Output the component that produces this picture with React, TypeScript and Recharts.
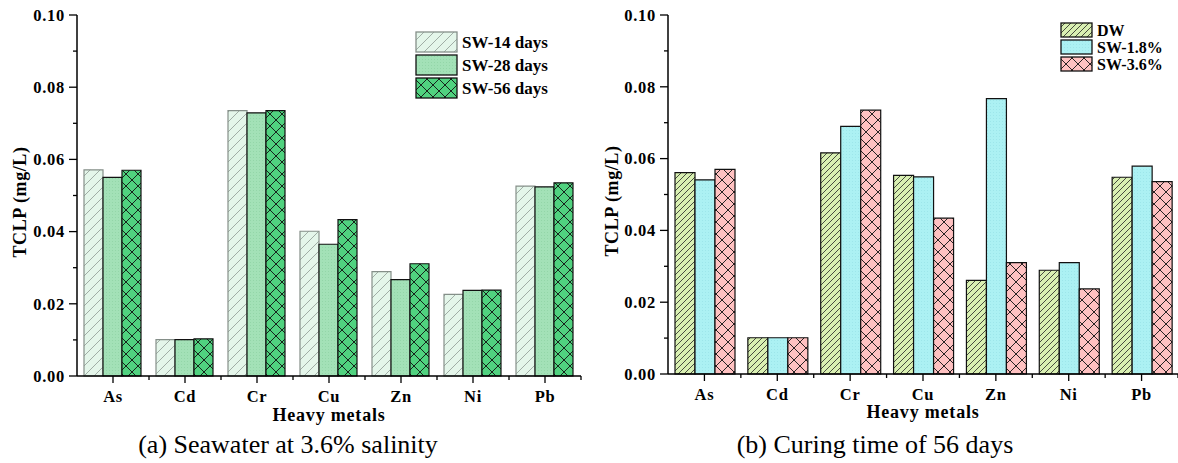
import React from "react";
import { BarChart, Bar, XAxis, YAxis } from "recharts";

const categories = ["As", "Cd", "Cr", "Cu", "Zn", "Ni", "Pb"];

// (a) seawater 3.6%, curing age
const sw14 = [0.0571, 0.0101, 0.0735, 0.0401, 0.0289, 0.0226, 0.0526];
const sw28 = [0.055, 0.0101, 0.0729, 0.0365, 0.0267, 0.0237, 0.0524];
const sw56 = [0.057, 0.0103, 0.0735, 0.0433, 0.0311, 0.0238, 0.0535];

// (b) 56 days, salinity
const dw = [0.0561, 0.0101, 0.0616, 0.0553, 0.0261, 0.0289, 0.0548];
const sw18 = [0.0541, 0.0101, 0.069, 0.0549, 0.0767, 0.031, 0.0579];
const sw36 = [0.057, 0.0101, 0.0735, 0.0434, 0.031, 0.0237, 0.0536];

const yTicks = [0, 0.01, 0.02, 0.03, 0.04, 0.05, 0.06, 0.07, 0.08, 0.09, 0.1];

const FONT = "Liberation Serif, Times New Roman, serif";

const dataA = categories.map((c, i) => ({ metal: c, sw14: sw14[i], sw28: sw28[i], sw56: sw56[i] }));
const dataB = categories.map((c, i) => ({ metal: c, dw: dw[i], sw18: sw18[i], sw36: sw36[i] }));

const seriesA = [
  { key: "sw14", name: "SW-14 days", fill: "url(#p14)", stroke: "#858f89" },
  { key: "sw28", name: "SW-28 days", fill: "url(#p28)", stroke: "#111" },
  { key: "sw56", name: "SW-56 days", fill: "url(#p56)", stroke: "#111" },
];
const seriesB = [
  { key: "dw", name: "DW", fill: "url(#pdw)", stroke: "#111" },
  { key: "sw18", name: "SW-1.8%", fill: "url(#p18)", stroke: "#111" },
  { key: "sw36", name: "SW-3.6%", fill: "url(#p36)", stroke: "#111" },
];

function Patterns() {
  return (
    <defs>
      <pattern id="p14" patternUnits="userSpaceOnUse" width="10" height="10">
        <rect width="10" height="10" fill="#e4f6ea" />
        <path d="M0,10 L10,0 M-2,2 L2,-2 M8,12 L12,8" stroke="#8f9a93" strokeWidth="0.8" />
      </pattern>
      <pattern id="p28" patternUnits="userSpaceOnUse" width="3" height="3">
        <rect width="3" height="3" fill="#a3e1b7" />
        <rect x="1" y="1" width="1" height="1" fill="#93d6a8" />
      </pattern>
      <pattern id="p56" patternUnits="userSpaceOnUse" width="12" height="12">
        <rect width="12" height="12" fill="#50d27f" />
        <path d="M0,0 L12,12 M0,12 L12,0" stroke="#111" strokeWidth="0.9" />
      </pattern>
      <pattern id="pdw" patternUnits="userSpaceOnUse" width="6" height="6">
        <rect width="6" height="6" fill="#d9f0b2" />
        <path d="M0,6 L6,0 M-1,1 L1,-1 M5,7 L7,5" stroke="#222" strokeWidth="0.8" />
      </pattern>
      <pattern id="p18" patternUnits="userSpaceOnUse" width="3" height="3">
        <rect width="3" height="3" fill="#acf1f3" />
        <rect x="1" y="1" width="1" height="1" fill="#9de6ea" />
      </pattern>
      <pattern id="p36" patternUnits="userSpaceOnUse" width="12" height="12">
        <rect width="12" height="12" fill="#ffc1c1" />
        <path d="M0,0 L12,12 M0,12 L12,0" stroke="#111" strokeWidth="0.9" />
      </pattern>
    </defs>
  );
}

const makeYTick = (tickSize: number, tickMargin: number) => (props: any) => {
  const { x, y, payload } = props;
  const axisX = x + tickSize + tickMargin;
  const major = Math.round(payload.value * 100) % 2 === 0;
  return (
    <g>
      <line x1={axisX - (major ? 8 : 4)} x2={axisX} y1={y} y2={y} stroke="#000" strokeWidth={1.3} />
      {major && (
        <text x={x} y={y} dy="0.35em" textAnchor="end" fontFamily={FONT} fontWeight="bold" fontSize={16.5} letterSpacing={0.7} fill="#000">
          {payload.value.toFixed(2)}
        </text>
      )}
    </g>
  );
};

const makeXTick = (band: number, count: number) => (props: any) => {
  const { x, y, payload, index } = props;
  const axisY = y - 16;
  return (
    <g>
      <line x1={x} x2={x} y1={axisY} y2={axisY + 7} stroke="#000" strokeWidth={1.3} />
      {index > 0 && <line x1={x - band / 2} x2={x - band / 2} y1={axisY} y2={axisY + 4} stroke="#000" strokeWidth={1.3} />}
      {index === count - 1 && <line x1={x + band / 2} x2={x + band / 2} y1={axisY} y2={axisY + 4} stroke="#000" strokeWidth={1.3} />}
      <text x={x} y={axisY + 26} textAnchor="middle" fontFamily={FONT} fontWeight="bold" fontSize={16.5} letterSpacing={0.7} fill="#000">
        {payload.value}
      </text>
    </g>
  );
};

function LegendBox({ series, sw, sh, step, fontSize, left, top }: any) {
  return (
    <svg width={170} height={step * 3 + 4} style={{ position: "absolute", left, top }}>
      <Patterns />
      {series.map((s: any, i: number) => (
        <g key={s.key}>
          <rect x={1} y={1 + i * step} width={sw} height={sh} fill={s.fill} stroke={s.stroke} strokeWidth={1.3} />
          <text x={sw + 6} y={1 + i * step + sh / 2} dy="0.35em" fontFamily={FONT} fontWeight="bold" fontSize={fontSize} fill="#000">
            {s.name}
          </text>
        </g>
      ))}
    </svg>
  );
}

const textStyle: React.CSSProperties = {
  position: "absolute",
  fontFamily: FONT,
  color: "#000",
  whiteSpace: "nowrap",
  lineHeight: 1,
};

export default function App() {
  return (
    <div style={{ position: "absolute", left: 0, top: 0, width: 1178, height: 463, background: "#fff", overflow: "hidden" }}>
      <div style={{ position: "absolute", left: 0, top: 0 }}>
        <BarChart width={590} height={463} data={dataA} margin={{ top: 15, right: 9, bottom: 57, left: 0 }} barCategoryGap={7} barGap={0}>
          <Patterns />
          <XAxis dataKey="metal" height={30} axisLine={{ stroke: "#000", strokeWidth: 1.5 }} tickLine={false} tickSize={7} tickMargin={9} tick={makeXTick(72, categories.length)} interval={0} />
          <XAxis xAxisId="top" orientation="top" dataKey="metal" height={0} tick={false} tickLine={false} axisLine={{ stroke: "#000", strokeWidth: 1.5 }} />
          <YAxis domain={[0, 0.1]} ticks={yTicks} width={77} axisLine={{ stroke: "#000", strokeWidth: 1.5 }} tickLine={false} tickSize={8} tickMargin={4} tick={makeYTick(8, 4)} interval={0} />
          <YAxis yAxisId="right" orientation="right" domain={[0, 0.1]} width={0} tick={false} tickLine={false} axisLine={{ stroke: "#000", strokeWidth: 1.5 }} />
          {seriesA.map((s) => (
            <Bar key={s.key} dataKey={s.key} name={s.name} fill={s.fill} stroke={s.stroke} strokeWidth={1.2} isAnimationActive={false} />
          ))}
        </BarChart>
      </div>
      <div style={{ position: "absolute", left: 590, top: 0 }}>
        <BarChart width={588} height={463} data={dataB} margin={{ top: 15, right: 0, bottom: 59, left: 0 }} barCategoryGap={7} barGap={0}>
          <Patterns />
          <XAxis dataKey="metal" height={30} axisLine={{ stroke: "#000", strokeWidth: 1.5 }} tickLine={false} tickSize={7} tickMargin={9} tick={makeXTick(510 / 7, categories.length)} interval={0} />
          <XAxis xAxisId="top" orientation="top" dataKey="metal" height={0} tick={false} tickLine={false} axisLine={{ stroke: "#000", strokeWidth: 1.5 }} />
          <YAxis domain={[0, 0.1]} ticks={yTicks} width={78} axisLine={{ stroke: "#000", strokeWidth: 1.5 }} tickLine={false} tickSize={8} tickMargin={4} tick={makeYTick(8, 4)} interval={0} />
          {seriesB.map((s) => (
            <Bar key={s.key} dataKey={s.key} name={s.name} fill={s.fill} stroke={s.stroke} strokeWidth={1.2} isAnimationActive={false} />
          ))}
        </BarChart>
      </div>

      <LegendBox series={seriesA} sw={41} sh={20} step={23} fontSize={17} left={415} top={31} />
      <LegendBox series={seriesB} sw={31} sh={14} step={17} fontSize={16} left={1060} top={22} />

      <div style={{ ...textStyle, left: 329, top: 406, transform: "translateX(-50%)", fontWeight: "bold", fontSize: 18, letterSpacing: 0.8 }}>Heavy metals</div>
      <div style={{ ...textStyle, left: 923, top: 403, transform: "translateX(-50%)", fontWeight: "bold", fontSize: 18, letterSpacing: 0.8 }}>Heavy metals</div>
      <div style={{ ...textStyle, left: 20, top: 202, transform: "translate(-50%, -50%) rotate(-90deg)", fontWeight: "bold", fontSize: 18, letterSpacing: 0.6 }}>TCLP (mg/L)</div>
      <div style={{ ...textStyle, left: 612, top: 201, transform: "translate(-50%, -50%) rotate(-90deg)", fontWeight: "bold", fontSize: 18, letterSpacing: 0.6 }}>TCLP (mg/L)</div>
      <div style={{ ...textStyle, left: 288, top: 432, transform: "translateX(-50%)", fontSize: 26 }}>(a) Seawater at 3.6% salinity</div>
      <div style={{ ...textStyle, left: 875, top: 432, transform: "translateX(-50%)", fontSize: 26 }}>(b) Curing time of 56 days</div>
    </div>
  );
}
